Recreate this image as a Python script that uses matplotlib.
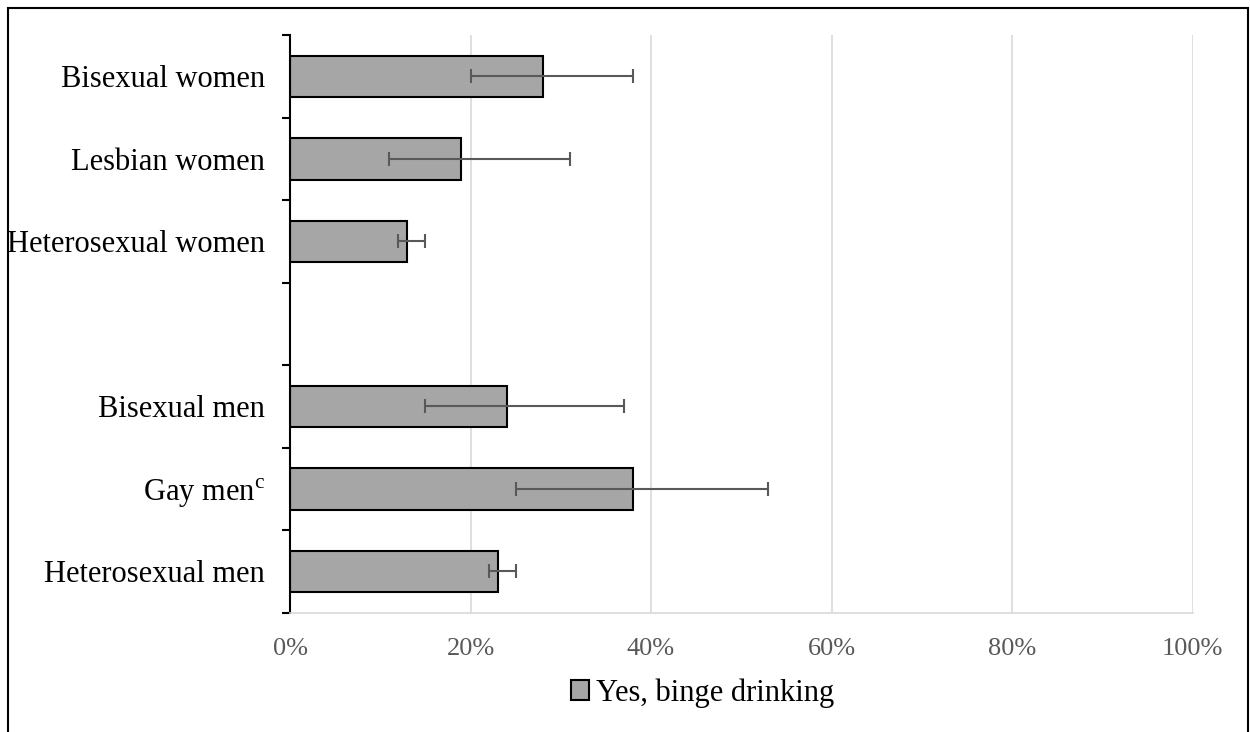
import numpy as np
import matplotlib
matplotlib.use('Agg')
import matplotlib.pyplot as plt
from matplotlib.patches import Rectangle
from matplotlib.ticker import PercentFormatter

plt.rcParams['font.family'] = ['Liberation Serif', 'DejaVu Serif']
plt.rcParams['mathtext.fontset'] = 'custom'
plt.rcParams['mathtext.rm'] = 'Liberation Serif'

# categories from top to bottom; empty string is the gap between groups
categories = ['Bisexual women', 'Lesbian women', 'Heterosexual women', '',
              'Bisexual men', 'Gay men$^{\\mathrm{c}}$', 'Heterosexual men']
values = [28, 19, 13, np.nan, 24, 38, 23]
ci_low = [20, 11, 12, np.nan, 15, 25, 22]
ci_high = [38, 31, 15, np.nan, 37, 53, 25]
series_name = 'Yes, binge drinking'

values = np.array(values, dtype=float)
err = np.array([values - np.array(ci_low), np.array(ci_high) - values])

fig = plt.figure(figsize=(12.5, 7.32), dpi=100)
ax = fig.add_axes([0.232, 0.163, 0.722, 0.789])

y = np.arange(len(categories))
bars = ax.barh(y, values, height=0.5, color='#a6a6a6', edgecolor='black',
               linewidth=1.5, label=series_name, zorder=2)
ax.errorbar(values, y, xerr=err, fmt='none', ecolor='#595959', elinewidth=1.5,
            capsize=5, capthick=1.5, zorder=3)

ax.set_ylim(len(categories) - 0.5, -0.5)
ax.set_xlim(0, 100)
ax.xaxis.set_major_formatter(PercentFormatter(decimals=0))
ax.set_xticks(np.arange(0, 101, 20))
ax.grid(axis='x', color='#d9d9d9', linewidth=1.2, zorder=0)

# category labels placed between boundary ticks
ax.set_yticks(np.arange(-0.5, len(categories), 1))
ax.set_yticklabels([])
ax.set_yticks(y, minor=True)
ax.set_yticklabels(categories, minor=True, fontsize=22)
ax.tick_params(axis='y', which='minor', length=0, pad=18)
ax.tick_params(axis='y', which='major', length=6, width=1.5, direction='out')
ax.tick_params(axis='x', length=0, labelsize=19, labelcolor='#595959', pad=18)

for s in ['top', 'right']:
    ax.spines[s].set_visible(False)
ax.spines['left'].set_linewidth(1.5)
ax.spines['bottom'].set_color('#d9d9d9')
ax.spines['bottom'].set_linewidth(1.2)

leg = fig.legend(handles=[bars], labels=[series_name], loc='center',
                 bbox_to_anchor=(0.562, 0.053), frameon=False, fontsize=22,
                 handlelength=0.6, handleheight=0.6, handletextpad=0.2)

fig.patches.append(Rectangle((0.006, -0.01), 0.992, 0.999, transform=fig.transFigure,
                             fill=False, edgecolor='black', linewidth=1.5))

fig.savefig('out.png', dpi=100)
